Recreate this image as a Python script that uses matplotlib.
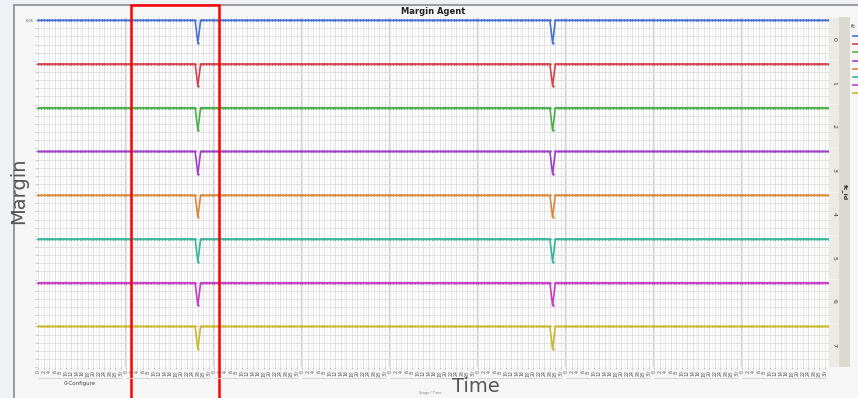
import numpy as np
import matplotlib
matplotlib.use("Agg")
import matplotlib.pyplot as plt
from matplotlib.patches import Rectangle
from matplotlib.lines import Line2D

W, H = 858, 398

# ---- data -------------------------------------------------------------
fc_ids = [0, 1, 2, 3, 4, 5, 6, 7]
fc_colors = ["#4a72d0", "#d5434f", "#4cae4c", "#a040c8",
             "#d9893a", "#38b59c", "#c43fc4", "#c9b92f"]
n_stages = 9
samples_per_stage = 32
stage_labels = ["0-Configure", "", "", "", "", "", "", "", ""]
tick_labels = [str(t) for t in range(0, 32, 2)]

baseline_margin = [0.050, 0.050, 0.050, 0.050, 0.050, 0.050, 0.050, 0.050]
dip_samples = [58, 187]
dip_margin = [0.022, 0.023, 0.022, 0.022, 0.023, 0.022, 0.022, 0.022]

n_samples = n_stages * samples_per_stage
sample_idx = np.arange(n_samples)


def margin_series(k):
    m = np.full(n_samples, baseline_margin[k])
    m[dip_samples] = dip_margin[k]
    return m


def rect(x0, y0, x1, y1):
    return [x0 / W, 1 - y1 / H, (x1 - x0) / W, (y1 - y0) / H]


fig = plt.figure(figsize=(W / 100, H / 100), dpi=100)
fig.patch.set_facecolor("#eef1f5")

# window frame
frame = fig.add_axes(rect(14, 5, W + 5, H + 5))
frame.set_facecolor("#f6f6f6")
frame.set_xticks([]); frame.set_yticks([])
for s in frame.spines.values():
    s.set_color("#8c8c8c"); s.set_linewidth(1.2)

fig.text(433 / W, 1 - 11 / H, "Margin Agent", ha="center", va="center",
         fontsize=6, fontweight="bold", color="#222222")

px0, px1 = 37, 829
top, bottom = 17, 367
ph = (bottom - top) / len(fc_ids)
ylo, yhi = 0.0, 0.054

axes = []
for k, fc in enumerate(fc_ids):
    y0 = top + k * ph
    ax = fig.add_axes(rect(px0, y0, px1, y0 + ph))
    ax.set_facecolor("white")
    ax.set_xlim(-0.5, n_samples - 0.5)
    ax.set_ylim(ylo, yhi)
    ax.set_xticks(np.arange(0, n_samples, 2))
    ax.set_xticks(np.arange(0, n_samples, 1), minor=True)
    ax.set_yticks([0.0, 0.01, 0.02, 0.03, 0.04, 0.05])
    ax.grid(True, which="major", axis="both", color="#dcdcdc", linewidth=0.6)
    ax.grid(True, which="minor", axis="x", color="#e8e8e8", linewidth=0.4)
    for st in range(1, n_stages):
        ax.axvline(st * samples_per_stage - 0.5, color="#d6d6d6", lw=0.7, zorder=1)
    ax.tick_params(axis="both", which="both", length=1.5, width=0.4,
                   color="#999999", labelsize=2.5, pad=1, labelcolor="#555555")
    ax.tick_params(axis="x", which="minor", length=0)
    if k == 0:
        ax.set_yticklabels(["", "", "", "", "", "0.05"])
    else:
        ax.set_yticklabels([])
    if k == len(fc_ids) - 1:
        ax.set_xticklabels([tick_labels[(i // 2) % 16] for i in range(0, n_samples, 2)],
                           rotation=90, fontsize=3.4)
    else:
        ax.set_xticklabels([])
        ax.tick_params(axis="x", length=0)
    for s in ax.spines.values():
        s.set_visible(False)
    ax.plot(sample_idx, margin_series(k), color=fc_colors[k], lw=1.2,
            marker="o", ms=1.8, mew=0, zorder=3)
    axes.append(ax)

    # facet strip
    sa = fig.add_axes(rect(829, y0 + 0.5, 839, y0 + ph - 0.5))
    sa.set_facecolor("#ebebe6")
    sa.set_xticks([]); sa.set_yticks([])
    for s in sa.spines.values():
        s.set_visible(False)
    sa.text(0.5, 0.5, str(fc), rotation=270, ha="center", va="center",
            fontsize=4.5, color="#333333", transform=sa.transAxes)

# outer facet title strip
fa = fig.add_axes(rect(839, top, 850, bottom))
fa.set_facecolor("#dadad0")
fa.set_xticks([]); fa.set_yticks([])
for s in fa.spines.values():
    s.set_visible(False)
fa.text(0.5, 0.5, "fc_id", rotation=270, ha="center", va="center",
        fontsize=4.5, fontweight="bold", color="#333333", transform=fa.transAxes)

# stage grouping under the time ticks
for st in range(n_stages):
    xa = px0 + (px1 - px0) * (st * samples_per_stage) / n_samples + 1
    xb = px0 + (px1 - px0) * ((st + 1) * samples_per_stage) / n_samples - 3
    fig.add_artist(Line2D([xa / W, xb / W], [1 - 378 / H, 1 - 378 / H],
                          color="#cfcfcf", lw=0.6))
    if stage_labels[st]:
        fig.text((xa + xb) / 2 / W, 1 - 384 / H, stage_labels[st], ha="center",
                 va="center", fontsize=4, color="#444444")

fig.text(476 / W, 1 - 386 / H, "Time", ha="center", va="center",
         fontsize=14, color="#555555")
fig.text(430 / W, 1 - 393 / H, "Stage / Time", ha="center", va="center",
         fontsize=2.5, color="#888888")
fig.text(19 / W, 1 - 191 / H, "Margin", rotation=90, ha="center", va="center",
         fontsize=14, color="#555555")

# legend (at the window edge)
fig.text(851 / W, 1 - 26 / H, "fc", ha="left", va="center",
         fontsize=4.5, color="#333333")
for k in range(len(fc_ids)):
    yy = 1 - (36 + k * 8.2) / H
    fig.add_artist(Line2D([853 / W, 862 / W], [yy, yy], color=fc_colors[k], lw=1.2))

# highlight box
fig.add_artist(Rectangle((131 / W, -0.02), (219 - 131) / W, 1 - 5 / H + 0.02,
                         fill=False, edgecolor="#ff0000", lw=1.8,
                         transform=fig.transFigure, clip_on=False))

fig.savefig("out.png", dpi=100, facecolor=fig.get_facecolor())
